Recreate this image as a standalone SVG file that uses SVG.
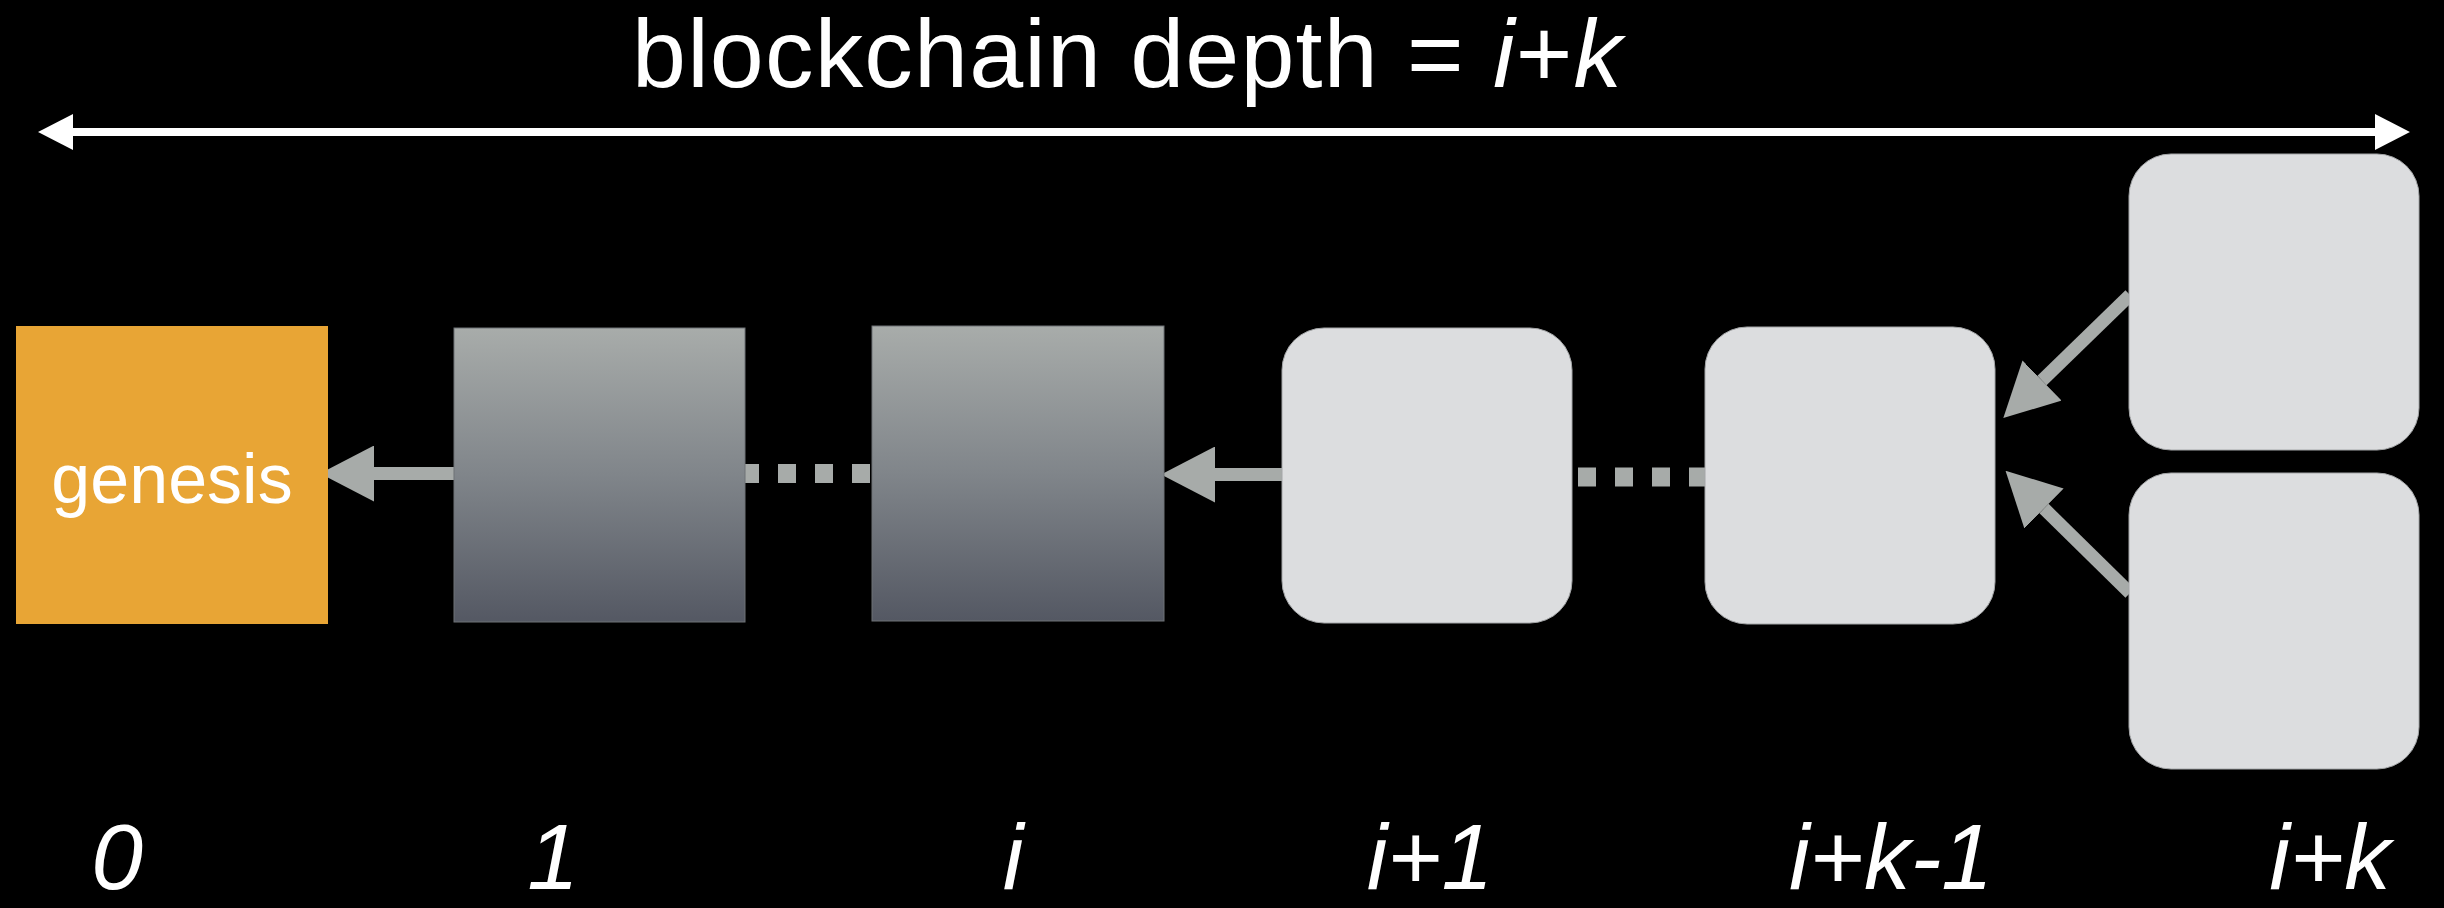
<svg xmlns="http://www.w3.org/2000/svg" width="2444" height="908" viewBox="0 0 2444 908">
  <defs>
    <linearGradient id="darkBlock" x1="0" y1="0" x2="0" y2="1">
      <stop offset="0" stop-color="#A8ACAA"/>
      <stop offset="0.5" stop-color="#80858A"/>
      <stop offset="1" stop-color="#545863"/>
    </linearGradient>
    <!-- grey link arrowhead: base sits on the line end, tip extends 52px forward -->
    <marker id="linkHead" markerUnits="userSpaceOnUse" markerWidth="54" markerHeight="56" viewBox="0 0 52 54" refX="0" refY="27" orient="auto">
      <path d="M0,0 L52,27 L0,54 Z" fill="#A7ABA9"/>
    </marker>
    <!-- white arrowheads for the depth span -->
    <marker id="spanHead" markerUnits="userSpaceOnUse" markerWidth="36" markerHeight="36" viewBox="0 0 34 35" refX="0" refY="17.5" orient="auto-start-reverse">
      <path d="M0,0 L34,17.5 L0,35 Z" fill="#FFFFFF"/>
    </marker>
    <style>
      .title { font-family: "Liberation Sans", Arial, sans-serif; font-size: 97px; fill: #FFFFFF; }
      .label { font-family: "Liberation Sans", Arial, sans-serif; font-size: 93px; font-style: italic; fill: #FFFFFF; text-anchor: middle; }
      .genesis-text { font-family: "Liberation Sans", Arial, sans-serif; font-size: 70px; fill: #FFFFFF; text-anchor: middle; }
      .dark { fill: url(#darkBlock); stroke: #6E7276; stroke-width: 1; }
      .light { fill: #DCDDDF; stroke: #A4A6A8; stroke-width: 1; }
      .link { stroke: #A7ABA9; stroke-width: 13; fill: none; marker-end: url(#linkHead); }
      .gap { stroke: #A7ABA9; stroke-width: 19; fill: none; stroke-dasharray: 18 19; }
      .span { stroke: #FFFFFF; stroke-width: 8; fill: none; marker-start: url(#spanHead); marker-end: url(#spanHead); }
    </style>
  </defs>

  <rect x="0" y="0" width="2444" height="908" fill="#000000"/>

  <!-- heading and depth span -->
  <g id="title">
    <text class="title" x="632" y="87" textLength="990" lengthAdjust="spacing">blockchain depth = <tspan font-style="italic">i</tspan>+<tspan font-style="italic">k</tspan></text>
  </g>
  <g id="depth-span">
    <line class="span" x1="73" y1="132" x2="2375" y2="132"/>
  </g>

  <!-- connectors -->
  <g id="connectors">
    <line class="link" x1="454" y1="473.5" x2="374" y2="473.5"/>
    <line class="gap" x1="741" y1="473.5" x2="872" y2="473.5"/>
    <line class="link" x1="1282" y1="474.5" x2="1215" y2="474.5"/>
    <line class="gap" x1="1578" y1="477" x2="1707" y2="477"/>
    <line class="link" x1="2130" y1="295" x2="2042" y2="380.5"/>
    <line class="link" x1="2130" y1="593" x2="2044" y2="508.5"/>
  </g>

  <!-- blocks -->
  <g id="block-genesis">
    <rect x="16" y="326" width="312" height="298" fill="#E8A535"/>
    <text class="genesis-text" x="172" y="503">genesis</text>
  </g>
  <g id="block-1">
    <rect class="dark" x="454" y="328" width="291" height="294"/>
  </g>
  <g id="block-i">
    <rect class="dark" x="872" y="326" width="292" height="295"/>
  </g>
  <g id="block-i1">
    <rect class="light" x="1282" y="328" width="290" height="295" rx="42" ry="42"/>
  </g>
  <g id="block-ik1">
    <rect class="light" x="1705" y="327" width="290" height="297" rx="42" ry="42"/>
  </g>
  <g id="block-ik-a">
    <rect class="light" x="2129" y="154" width="290" height="296" rx="42" ry="42"/>
  </g>
  <g id="block-ik-b">
    <rect class="light" x="2129" y="473" width="290" height="296" rx="42" ry="42"/>
  </g>

  <!-- height labels -->
  <g id="labels">
    <text class="label" x="117" y="889">0</text>
    <text class="label" x="553" y="889">1</text>
    <text class="label" x="1013" y="889">i</text>
    <text class="label" x="1430" y="889">i+1</text>
    <text class="label" x="1891" y="889">i+k-1</text>
    <text class="label" x="2330" y="889">i+k</text>
  </g>
</svg>
